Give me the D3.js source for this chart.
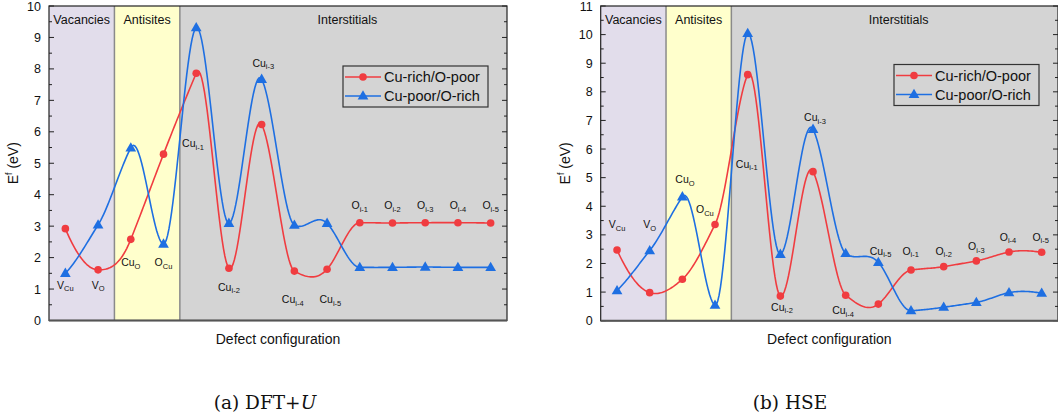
<!DOCTYPE html>
<html><head><meta charset="utf-8">
<script src="https://cdn.jsdelivr.net/npm/d3@7"></script>
<style>body{margin:0;background:#fff}svg{display:block}text{font-family:"Liberation Sans",Arial,sans-serif}</style>
</head><body><svg id="c" width="1058" height="419"></svg>
<script>
// ---- data ----
const categories = ["V_Cu","V_O","Cu_O","O_Cu","Cu_i-1","Cu_i-2","Cu_i-3","Cu_i-4","Cu_i-5","O_i-1","O_i-2","O_i-3","O_i-4","O_i-5"];
const seriesNames = ["Cu-rich/O-poor","Cu-poor/O-rich"];
const groups = [{name:"Vacancies",from:0,to:1},{name:"Antisites",from:2,to:3},{name:"Interstitials",from:4,to:13}];
// (a) DFT+U
const dftRich = [2.92,1.61,2.58,5.29,7.86,1.66,6.23,1.57,1.63,3.11,3.10,3.11,3.11,3.10];
const dftPoor = [1.50,3.04,5.49,2.43,9.31,3.09,7.67,3.03,3.09,1.69,1.69,1.70,1.69,1.69];
// (b) HSE
const hseRich = [2.47,0.98,1.45,3.36,8.60,0.86,5.21,0.89,0.58,1.77,1.89,2.09,2.40,2.39];
const hsePoor = [1.05,2.45,4.33,0.54,10.04,2.32,6.69,2.35,2.04,0.35,0.47,0.64,0.98,0.96];
const dftTicks = [0,1,2,3,4,5,6,7,8,9,10];
const hseTicks = [0,1,2,3,4,5,6,7,8,9,10,11];
// label anchors [category index, energy]
const dftLabelPos = [[0,1.13],[1,1.13],[2,1.86],[3,1.86],[3.9,5.64],[5,1.07],[6.05,8.19],[6.95,0.68],[8.1,0.68],[9,3.67],[10,3.67],[11,3.67],[12,3.67],[13,3.67]];
const hseLabelPos = [[0,3.38],[1,3.38],[2.08,4.95],[2.69,3.90],[3.97,5.48],[5.05,0.48],[6.06,7.12],[6.92,0.37],[8.07,2.45],[8.99,2.45],[10,2.45],[11,2.61],[11.97,2.94],[12.97,2.94]];
const captions = [["(a) DFT+","U"],["(b) HSE",""]];

const COLORS = ["#F03C40","#1E6FE2"];
const BG = ["#E2DDEB","#FFFFCC","#D4D4D4"];

// Akima spline sampled in index space
function akima(ys, steps){
  const n = ys.length, m = [];
  for(let i=0;i<n-1;i++) m.push(ys[i+1]-ys[i]);
  const M = (k)=>{ // slope with extrapolated ends
    if(k>=0 && k<n-1) return m[k];
    if(k===-1) return 2*m[0]-m[1];
    if(k===-2) return 2*(2*m[0]-m[1])-m[0];
    if(k===n-1) return 2*m[n-2]-m[n-3];
    if(k===n) return 2*(2*m[n-2]-m[n-3])-m[n-2];
  };
  const t = ys.map((_,i)=>{
    const a=M(i-2),b=M(i-1),c=M(i),d=M(i+1);
    const w1=Math.abs(d-c), w2=Math.abs(b-a);
    return (w1+w2)<1e-9 ? (b+c)/2 : (w1*b+w2*c)/(w1+w2);
  });
  const pts=[];
  for(let i=0;i<n-1;i++){
    for(let s=0;s<steps;s++){
      const u=s/steps, u2=u*u, u3=u2*u;
      const v=(2*u3-3*u2+1)*ys[i]+(u3-2*u2+u)*t[i]+(-2*u3+3*u2)*ys[i+1]+(u3-u2)*t[i+1];
      pts.push([i+u,v]);
    }
  }
  pts.push([n-1,ys[n-1]]);
  return pts;
}

const svg = d3.select("#c");

function drawPanel(o){
  const g = svg.append("g");
  const x = d3.scaleLinear().domain([-0.5,13.5]).range([o.left,o.right]);
  const y = d3.scaleLinear().domain([0,o.ymax]).range([o.bottom,o.top]);
  groups.forEach((gr,i)=>{
    g.append("rect").attr("x",x(gr.from-0.5)).attr("y",o.top)
     .attr("width",x(gr.to+0.5)-x(gr.from-0.5)).attr("height",o.bottom-o.top)
     .attr("fill",BG[i]);
    g.append("text").attr("x",(x(gr.from-0.5)+x(gr.to+0.5))/2+(i===2?4:0)).attr("y",o.top+18)
     .attr("text-anchor","middle").attr("font-size",12.5).attr("fill","#111").text(gr.name);
  });
  [1.5,3.5].forEach(v=>{
    g.append("line").attr("x1",x(v)).attr("x2",x(v)).attr("y1",o.top).attr("y2",o.bottom)
     .attr("stroke","#8a8a8a").attr("stroke-width",1.5);
  });
  const major = o.ticks;
  const minor = d3.range(0.5,o.ymax,1);
  const yl = d3.axisLeft(y).tickValues(major).tickSize(0).tickPadding(8);
  g.append("g").attr("transform",`translate(${o.left},0)`).call(yl)
   .call(s=>{s.select(".domain").remove();s.selectAll("text").attr("font-size",12.5).attr("fill","#111").attr("font-family","Liberation Sans, Arial, sans-serif");});
  [[o.left,1],[o.right,-1]].forEach(([xx,dir])=>{
    major.forEach(t=>g.append("line").attr("x1",xx).attr("x2",xx+dir*5).attr("y1",y(t)).attr("y2",y(t)).attr("stroke","#222").attr("stroke-width",1));
    minor.forEach(t=>g.append("line").attr("x1",xx).attr("x2",xx+dir*3).attr("y1",y(t)).attr("y2",y(t)).attr("stroke","#222").attr("stroke-width",1));
  });
  g.append("rect").attr("x",o.left).attr("y",o.top).attr("width",o.right-o.left).attr("height",o.bottom-o.top)
   .attr("fill","none").attr("stroke","#222").attr("stroke-width",1.2);
  g.append("line").attr("x1",o.left).attr("x2",o.right).attr("y1",o.bottom).attr("y2",o.bottom).attr("stroke","#555").attr("stroke-width",2);
  const line = d3.line().x(d=>x(d[0])).y(d=>y(d[1]));
  o.series.forEach((s,k)=>{
    g.append("path").attr("d",line(akima(s,24))).attr("fill","none").attr("stroke",COLORS[k]).attr("stroke-width",1.6);
  });
  o.series.forEach((s,k)=>{
    s.forEach((v,i)=>{
      if(k===0) g.append("circle").attr("cx",x(i)).attr("cy",y(v)).attr("r",3.8).attr("fill",COLORS[0]);
      else g.append("path").attr("d",d3.symbol(d3.symbolTriangle,50)()).attr("transform",`translate(${x(i)},${y(v)+0.5})`).attr("fill",COLORS[1]);
    });
  });
  categories.forEach((c,i)=>{
    const [base,sub] = c.split("_");
    const [li,lv] = o.labels[i];
    const t = g.append("text").attr("x",x(li)).attr("y",y(lv)+4).attr("text-anchor","middle").attr("font-size",10.5).attr("fill","#111");
    t.append("tspan").text(base);
    t.append("tspan").attr("font-size",7.5).attr("dy",2.5).text(sub);
  });
  const lx = o.legend[0], ly = o.legend[1];
  g.append("rect").attr("x",lx).attr("y",ly).attr("width",145).attr("height",41).attr("fill","none").attr("stroke","#333").attr("stroke-width",1.2);
  seriesNames.forEach((n,k)=>{
    const yy = ly+11+k*19;
    g.append("line").attr("x1",lx+2).attr("x2",lx+38).attr("y1",yy).attr("y2",yy).attr("stroke",COLORS[k]).attr("stroke-width",1.6);
    if(k===0) g.append("circle").attr("cx",lx+20).attr("cy",yy).attr("r",3.8).attr("fill",COLORS[0]);
    else g.append("path").attr("d",d3.symbol(d3.symbolTriangle,50)()).attr("transform",`translate(${lx+20},${yy+0.5})`).attr("fill",COLORS[1]);
    g.append("text").attr("x",lx+41).attr("y",yy+5).attr("font-size",14.5).attr("fill","#111").text(n);
  });
  const yt = g.append("text").attr("transform",`translate(${o.left-31},${(o.top+o.bottom)/2}) rotate(-90)`)
    .attr("text-anchor","middle").attr("font-size",14).attr("fill","#111");
  yt.append("tspan").text("E");
  yt.append("tspan").attr("font-size",9).attr("dy",-6).text("f");
  yt.append("tspan").attr("dy",6).text(" (eV)");
  g.append("text").attr("x",(o.left+o.right)/2).attr("y",o.bottom+23).attr("text-anchor","middle")
   .attr("font-size",14).attr("fill","#111").text("Defect configuration");
  const cap = g.append("text").attr("x",o.capX).attr("y",409).attr("text-anchor","middle")
   .attr("font-size",18.5).attr("fill","#111").style("font-family","'DejaVu Serif','Liberation Serif',serif");
  cap.append("tspan").text(o.caption[0]);
  if(o.caption[1]) cap.append("tspan").attr("font-style","italic").text(o.caption[1]);
}

drawPanel({left:49,right:507,top:6,bottom:320.5,ymax:10,ticks:dftTicks,series:[dftRich,dftPoor],labels:dftLabelPos,legend:[343,66],caption:captions[0],capX:265});
drawPanel({left:600.7,right:1058,top:6,bottom:320.7,ymax:11,ticks:hseTicks,series:[hseRich,hsePoor],labels:hseLabelPos,legend:[894,64.5],caption:captions[1],capX:790});
</script></body></html>
